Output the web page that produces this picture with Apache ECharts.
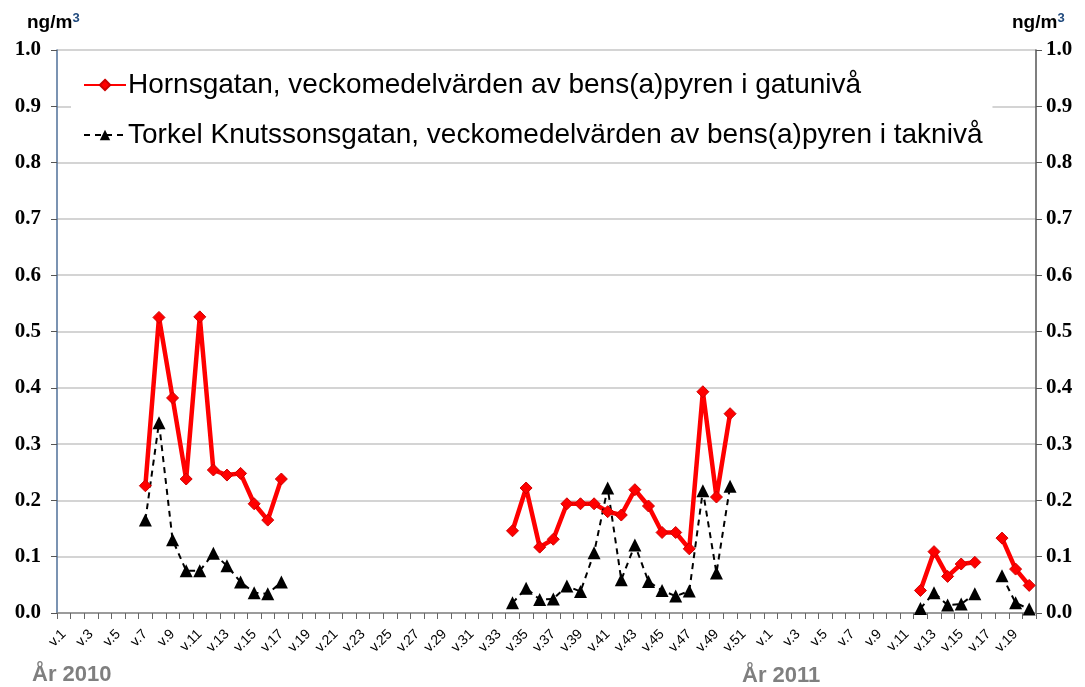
<!DOCTYPE html>
<html>
<head>
<meta charset="utf-8">
<script src="https://cdn.jsdelivr.net/npm/echarts@6/dist/echarts.min.js"></script>
<style>
  html, body { margin: 0; padding: 0; background: #fff; }
  #chart { width: 1085px; height: 687px; }
</style>
</head>
<body>
<div id="chart"></div>
<script>
// weeks: 2010 v.1..v.52, then 2011 v.1..v.20
const weeks2010 = Array.from({ length: 52 }, (_, i) => "v." + (i + 1));
const weeks2011 = Array.from({ length: 20 }, (_, i) => "v." + (i + 1));
const categories = weeks2010.map(w => "2010|" + w).concat(weeks2011.map(w => "2011|" + w));

// Hornsgatan, street level (ng/m3), by week
const horns2010 = { 7: 0.226, 8: 0.525, 9: 0.382, 10: 0.238, 11: 0.526, 12: 0.254, 13: 0.245, 14: 0.248, 15: 0.194, 16: 0.165, 17: 0.238,
  34: 0.146, 35: 0.222, 36: 0.117, 37: 0.131, 38: 0.194, 39: 0.194, 40: 0.194, 41: 0.180, 42: 0.174, 43: 0.219, 44: 0.190,
  45: 0.143, 46: 0.143, 47: 0.114, 48: 0.393, 49: 0.206, 50: 0.354 };
const horns2011 = { 12: 0.040, 13: 0.109, 14: 0.065, 15: 0.087, 16: 0.090, 18: 0.133, 19: 0.078, 20: 0.049 };

// Torkel Knutssonsgatan, roof level (ng/m3), by week
const torkel2010 = { 7: 0.165, 8: 0.338, 9: 0.130, 10: 0.075, 11: 0.075, 12: 0.106, 13: 0.084, 14: 0.055, 15: 0.036, 16: 0.034, 17: 0.055,
  34: 0.018, 35: 0.044, 36: 0.024, 37: 0.025, 38: 0.048, 39: 0.038, 40: 0.107, 41: 0.222, 42: 0.059, 43: 0.121, 44: 0.056,
  45: 0.040, 46: 0.030, 47: 0.039, 48: 0.217, 49: 0.071, 50: 0.225 };
const torkel2011 = { 12: 0.008, 13: 0.036, 14: 0.014, 15: 0.016, 16: 0.034, 18: 0.066, 19: 0.018, 20: 0.007 };

const yTicks = [0, 0.1, 0.2, 0.3, 0.4, 0.5, 0.6, 0.7, 0.8, 0.9, 1.0];

function toSeries(y2010, y2011) {
  const a = weeks2010.map((_, i) => (i + 1) in y2010 ? y2010[i + 1] : null);
  const b = weeks2011.map((_, i) => (i + 1) in y2011 ? y2011[i + 1] : null);
  return a.concat(b);
}

const chart = echarts.init(document.getElementById("chart"));

const yAxisBase = {
  type: "value",
  min: yTicks[0],
  max: yTicks[yTicks.length - 1],
  interval: 0.1,
  axisLabel: {
    fontFamily: "Liberation Serif",
    fontWeight: "bold",
    fontSize: 21,
    color: "#000",
    formatter: v => v.toFixed(1)
  },
  axisTick: { show: true, length: 6, lineStyle: { color: "#555" } }
};

const unitRich = {
  a: { fontFamily: "Liberation Sans", fontWeight: "bold", fontSize: 19, fill: "#000" },
  b: { fontFamily: "Liberation Sans", fontWeight: "bold", fontSize: 13, fill: "#1f497d", verticalAlign: "top", padding: [0, 0, 8, 0] }
};

chart.setOption({
  animation: false,
  grid: { left: 57, right: 49, top: 50, bottom: 74, containLabel: false },
  legend: {
    orient: "vertical",
    left: 71,
    top: 61,
    padding: [10, 10, 10, 12],
    itemGap: 22,
    itemWidth: 42,
    itemHeight: 13,
    backgroundColor: "#fff",
    textStyle: { fontFamily: "Liberation Sans", fontSize: 28, color: "#000", padding: [0, 0, 0, -3] },
    data: [
      { name: "Hornsgatan, veckomedelvärden av bens(a)pyren i gatunivå" },
      { name: "Torkel Knutssonsgatan, veckomedelvärden av bens(a)pyren i taknivå" }
    ]
  },
  xAxis: {
    type: "category",
    data: categories,
    boundaryGap: true,
    axisLine: { lineStyle: { color: "#888", width: 1.5 } },
    axisTick: { show: true, interval: 0, length: 6, lineStyle: { color: "#666" } },
    axisLabel: {
      interval: 1,
      rotate: 45,
      margin: 19,
      fontFamily: "Liberation Sans",
      fontSize: 14,
      color: "#000",
      formatter: v => v.split("|")[1]
    },
    splitLine: { show: false }
  },
  yAxis: [
    Object.assign({}, yAxisBase, {
      position: "left",
      axisLine: { show: true, lineStyle: { color: "#4f6f99", width: 1.5 } },
      axisLabel: Object.assign({}, yAxisBase.axisLabel, { margin: 16 }),
      splitLine: { show: true, lineStyle: { color: "#c6c6c6", width: 1.5 } }
    }),
    Object.assign({}, yAxisBase, {
      position: "right",
      axisLine: { show: true, lineStyle: { color: "#555", width: 1.5 } },
      axisLabel: Object.assign({}, yAxisBase.axisLabel, { margin: 10 }),
      splitLine: { show: false }
    })
  ],
  series: [
    {
      name: "Hornsgatan, veckomedelvärden av bens(a)pyren i gatunivå",
      type: "line",
      data: toSeries(horns2010, horns2011),
      connectNulls: false,
      showAllSymbol: true,
      symbol: "diamond",
      symbolSize: 12,
      lineStyle: { color: "#ff0000", width: 4.5 },
      itemStyle: { color: "#ff0000", borderColor: "#cc0000", borderWidth: 1 }
    },
    {
      name: "Torkel Knutssonsgatan, veckomedelvärden av bens(a)pyren i taknivå",
      type: "line",
      data: toSeries(torkel2010, torkel2011),
      connectNulls: false,
      showAllSymbol: true,
      symbol: "triangle",
      symbolSize: 13,
      lineStyle: { color: "#000", width: 2, type: [6, 5] },
      itemStyle: { color: "#000" }
    }
  ],
  graphic: [
    { type: "text", left: 27, top: 12, style: { rich: unitRich, text: "{a|ng/m}{b|3}" } },
    { type: "text", left: 1012, top: 12, style: { rich: unitRich, text: "{a|ng/m}{b|3}" } },
    { type: "text", left: 32, top: 664, style: { text: "År 2010", fontFamily: "Liberation Sans", fontWeight: "bold", fontSize: 22, fill: "#7f7f7f" } },
    { type: "text", left: 742, top: 665, style: { text: "År 2011", fontFamily: "Liberation Sans", fontWeight: "bold", fontSize: 22, fill: "#7f7f7f" } }
  ]
});
</script>
</body>
</html>
